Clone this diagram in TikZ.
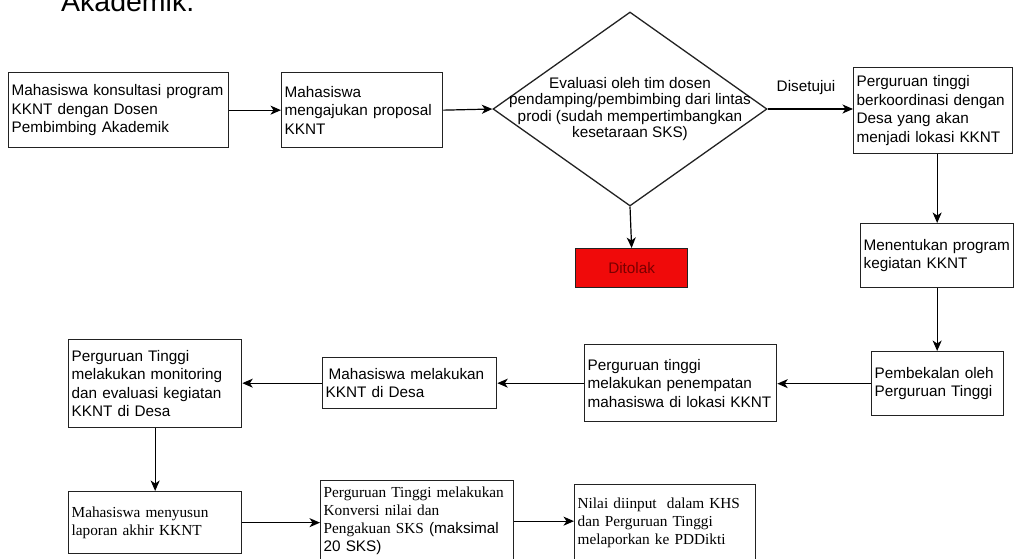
\documentclass[tikz,border=0pt]{standalone}
\usepackage{fontspec}
\setmainfont{Liberation Sans}
\newfontfamily\tnr{Liberation Serif}
\usetikzlibrary{arrows.meta,shapes.geometric,calc}
\definecolor{boxline}{HTML}{222222}
\definecolor{rejfill}{HTML}{F00A0A}
\definecolor{rejtext}{HTML}{7A0000}
\begin{document}
\begin{tikzpicture}[x=1pt,y=-1pt,
  txt/.style={font=\fontsize{15.3}{18.5}\selectfont},
  box/.style={draw=boxline, line width=1.3pt, rectangle, anchor=north west,
    inner xsep=3pt, inner ysep=0pt, align=left, txt},
  serifbox/.style={box, font=\tnr\fontsize{15.3}{18}\selectfont},
  arr/.style={draw=black, line width=1.2pt, -{Stealth[length=10.5pt,width=9pt,inset=3pt]}},
]
\useasboundingbox (0,0) rectangle (1014,558);

\node[anchor=base west, inner sep=0pt, font=\fontsize{28.5}{30}\selectfont] (ak) at (61,11) {Akademik.};

\node[box, text width=214pt, minimum height=75pt] (b1) at (8,72)
  {Mahasiswa konsultasi program\\KKNT dengan Dosen\\Pembimbing Akademik};
\node[box, text width=155pt, minimum height=75pt] (b2) at (281,72)
  {Mahasiswa\\mengajukan proposal\\KKNT};
\node[draw=boxline, line width=1.3pt, diamond, minimum width=274pt, minimum height=194pt,
  inner sep=0pt,
  label={[txt, font=\fontsize{15.3}{16.5}\selectfont, align=center]center:{Evaluasi oleh tim dosen\\pendamping/pembimbing dari lintas\\prodi (sudah mempertimbangkan\\kesetaraan SKS)}}]
  (dia) at (630,109) {};
\node[box, text width=153pt, minimum height=86pt] (b3) at (853,67)
  {Perguruan tinggi\\berkoordinasi dengan\\Desa yang akan\\menjadi lokasi KKNT};
\node[draw=boxline, line width=1.3pt, fill=rejfill, minimum width=112pt, minimum height=39pt,
  inner sep=0pt, txt, text=rejtext, anchor=north west] (rej) at (575,248) {Ditolak};
\node[box, text width=147pt, minimum height=64pt] (b4) at (860,223)
  {Menentukan program\\kegiatan KKNT};
\node[box, text width=126pt, minimum height=64pt] (b5) at (871,351)
  {Pembekalan oleh\\Perguruan Tinggi};
\node[box, text width=186pt, minimum height=77pt] (b6) at (584,344)
  {Perguruan tinggi\\melakukan penempatan\\mahasiswa di lokasi KKNT};
\node[box, text width=168pt, minimum height=51pt] (b7) at (322,357)
  {\hspace*{3pt}Mahasiswa melakukan\\KKNT di Desa};
\node[box, text width=167pt, minimum height=88pt] (b8) at (68,339)
  {Perguruan Tinggi\\melakukan monitoring\\dan evaluasi kegiatan\\KKNT di Desa};
\node[serifbox, text width=167pt, minimum height=62pt] (b9) at (68,491)
  {Mahasiswa menyusun\\laporan akhir KKNT};
\node[serifbox, text width=187pt, minimum height=81pt] (b10) at (320,480)
  {Perguruan Tinggi melakukan\\Konversi nilai dan\\Pengakuan SKS {\rmfamily\fontsize{15.3}{18}\selectfont(maksimal}\\{\rmfamily\fontsize{15.3}{18}\selectfont 20 SKS)}};
\node[serifbox, text width=175pt, minimum height=77pt] (b11) at (574,484)
  {Nilai diinput \ dalam KHS\\dan Perguruan Tinggi\\melaporkan ke PDDikti};

\draw[arr] (b1.east) -- (b1.east -| b2.west);
\draw[arr] (b2.east) -- (dia.west);
\draw[arr] (dia.east) -- node[pos=0.45, above=14pt, inner sep=0pt, txt]{Disetujui} (dia.east -| b3.west);
\draw[arr] (dia.south) -- (rej.north);
\draw[arr] (b3.south -| b4.north) -- (b4.north);
\draw[arr] (b4.south) -- (b4.south |- b5.north);
\draw[arr] (b5.west) -- (b5.west -| b6.east);
\draw[arr] (b6.west) -- (b6.west -| b7.east);
\draw[arr] (b7.west) -- (b7.west -| b8.east);
\draw[arr] (b8.south) -- (b9.north);
\draw[arr] (b9.east) -- (b9.east -| b10.west);
\draw[arr] (b10.east) -- (b10.east -| b11.west);
\end{tikzpicture}
\end{document}
